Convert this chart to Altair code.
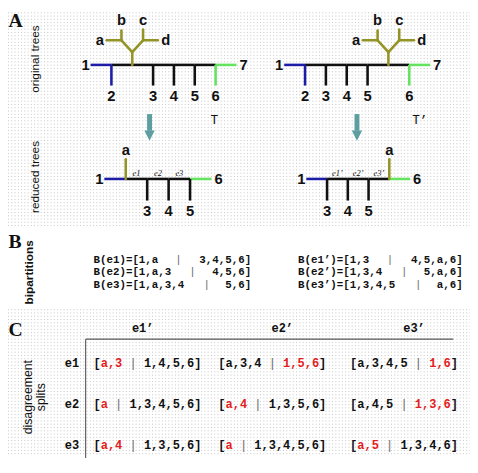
import altair as alt
import pandas as pd

# ------------------------------------------------------------------ data
# Panel A: leaves in order along each backbone ("S" = the subtree ((a,b),(c,d)))
T_order = ["1", "2", "S", "3", "4", "5", "6", "7"]
Tp_order = ["1", "2", "3", "4", "5", "S", "6", "7"]
rT_order = ["1", "a", "3", "4", "5", "6"]
rTp_order = ["1", "3", "4", "5", "a", "6"]
subtree_leaves = ["a", "b", "c", "d"]
rT_edge_names = ["e1", "e2", "e3"]
rTp_edge_names = ["e1’", "e2’", "e3’"]
tree_names = ["T", "T’"]
side_labels_A = ["original trees", "reduced trees"]
panel_letters = ["A", "B", "C"]

# Panel B: bipartitions
B_T_edges = ["e1", "e2", "e3"]
B_T_left = ["1,a", "1,a,3", "1,a,3,4"]
B_T_right = ["3,4,5,6", "4,5,6", "5,6"]
B_Tp_edges = ["e1’", "e2’", "e3’"]
B_Tp_left = ["1,3", "1,3,4", "1,3,4,5"]
B_Tp_right = ["4,5,a,6", "5,a,6", "a,6"]

# Panel C: disagreement splits
C_rows = ["e1", "e2", "e3"]
C_cols = ["e1’", "e2’", "e3’"]
C_left = [["a,3", "a,3,4", "a,3,4,5"],
          ["a", "a,4", "a,4,5"],
          ["a,4", "a", "a,5"]]
C_right = [["1,4,5,6", "1,5,6", "1,6"],
           ["1,3,4,5,6", "1,3,5,6", "1,3,6"],
           ["1,3,5,6", "1,3,4,5,6", "1,3,4,6"]]
C_red_side = [["left", "right", "right"],
              ["left", "left", "right"],
              ["left", "left", "left"]]

# ------------------------------------------------------------------ layout / style
W, H = 470, 450
X0, Y0 = 8, 8
xs = alt.Scale(domain=[X0, X0 + W], nice=False, zero=False)
ys = alt.Scale(domain=[Y0, Y0 + H], nice=False, zero=False, reverse=True)

BLUE, OLIVE, GREEN, BLACK = "#1c1ca6", "#939326", "#63e35f", "#111111"
TEAL, RED, BARC, DOTC = "#5d9ea1", "#e3211c", "#6a6a6a", "#c6c6c6"
SANS, SERIF, MONO = "Liberation Sans", "Liberation Serif", "Liberation Mono"
MSIZE = 12.2
P = MSIZE * 0.6  # monospace advance (panel C)
BSIZE = 11.0
PB = 7.2         # character pitch used for panel B layout


def leaf_colour(l):
    if l in ("1", "2"):
        return BLUE
    if l in ("6", "7"):
        return GREEN
    if l in ("S", "a"):
        return OLIVE
    return BLACK


trees = [
    dict(order=T_order, x0=92, pitch=21.2, yb=62, ydown=83, ylab=94, names=None),
    dict(order=Tp_order, x0=289, pitch=21.2, yb=62, ydown=83, ylab=94, names=None),
    dict(order=rT_order, x0=106, pitch=21.8, yb=178, ydown=200, ylab=211, names=rT_edge_names),
    dict(order=rTp_order, x0=311.5, pitch=21.1, yb=178, ydown=200, ylab=211, names=rTp_edge_names),
]

edges, olive_edges, leaf_lbl_c, leaf_lbl_l, leaf_lbl_r, edge_lbl = [], [], [], [], [], []
for tr in trees:
    order = tr["order"]
    n = len(order)
    px = [tr["x0"] + i * tr["pitch"] for i in range(n)]
    yb = tr["yb"]
    for i in range(n - 1):
        col = leaf_colour(order[0]) if i == 0 else (leaf_colour(order[-1]) if i == n - 2 else BLACK)
        edges.append(dict(x=px[i], y=yb, x2=px[i + 1], y2=yb, c=col))
    leaf_lbl_r.append(dict(x=px[0] - 1, y=yb, t=order[0], c=BLACK))
    leaf_lbl_l.append(dict(x=px[-1] + 3, y=yb, t=order[-1], c=BLACK))
    for i in range(1, n - 1):
        l, x = order[i], px[i]
        if l == "S":
            ya, yn = yb - 13, yb - 25
            olive_edges += [
                dict(x=x, y=yb, x2=x, y2=ya, c=OLIVE),
                dict(x=x, y=ya, x2=x - 11, y2=yn, c=OLIVE),
                dict(x=x, y=ya, x2=x + 11, y2=yn, c=OLIVE),
                dict(x=x - 11, y=yn, x2=x - 26, y2=yn, c=OLIVE),
                dict(x=x - 11, y=yn, x2=x - 11, y2=yn - 10, c=OLIVE),
                dict(x=x + 11, y=yn, x2=x + 26, y2=yn, c=OLIVE),
                dict(x=x + 11, y=yn, x2=x + 11, y2=yn - 11, c=OLIVE),
            ]
            for t, dx, dy in zip(subtree_leaves, [-33, -11, 11, 34], [0, -21, -21, 0]):
                leaf_lbl_c.append(dict(x=x + dx, y=yn + dy, t=t, c=BLACK))
        elif l == "a":
            olive_edges.append(dict(x=x, y=yb, x2=x, y2=yb - 20, c=OLIVE))
            leaf_lbl_c.append(dict(x=x, y=yb - 29, t=l, c=BLACK))
        else:
            edges.append(dict(x=x, y=yb, x2=x, y2=tr["ydown"], c=leaf_colour(l)))
            leaf_lbl_c.append(dict(x=x, y=tr["ylab"], t=l, c=BLACK))
    if tr["names"]:
        for k, nm in enumerate(tr["names"]):
            edge_lbl.append(dict(x=(px[k + 1] + px[k + 2]) / 2, y=yb - 6, t=nm, c=BLACK))

arrow_x = [152, 363]
arrow_shaft = pd.DataFrame([dict(x=a, y=112, x2=a, y2=129, c=TEAL) for a in arrow_x])
arrow_head = pd.DataFrame([dict(x=a, y=134, c=TEAL) for a in arrow_x])
names_df = pd.DataFrame([dict(x=x, y=118, t=t, c=BLACK) for x, t in zip([218, 427], tree_names)])

# dotted backgrounds
dots = []
y = 9.0
while y < 227:
    dots.append(dict(x=X0, y=y, x2=X0 + W, y2=y, c=DOTC))
    y += 3.33
y = 311.0
while y < Y0 + H:
    dots.append(dict(x=X0, y=y, x2=X0 + W, y2=y, c=DOTC))
    y += 3.33

# panel B text
B_left_txt, B_bars, B_right_txt = [], [], []
for x0, edg, lefts, rights in [(95, B_T_edges, B_T_left, B_T_right), (303, B_Tp_edges, B_Tp_left, B_Tp_right)]:
    pres = [f"B({e})=[{l}" for e, l in zip(edg, lefts)]
    endcol = max(len(p) + len(r) + 1 for p, r in zip(pres, rights)) + 4
    for k, (pre, r) in enumerate(zip(pres, rights)):
        yy = 260.6 + k * 12.6
        B_left_txt.append(dict(x=x0, y=yy, t=pre, c=BLACK))
        B_bars.append(dict(x=x0 + (len(pre) + 2) * PB, y=yy, t="|", c=BARC))
        B_right_txt.append(dict(x=x0 + endcol * PB + 2, y=yy, t=r + "]", c=BLACK))

# panel C text
C_col_x = [95, 222, 356]
C_row_y = [365, 406.7, 448.3]
C_head_x = [145, 287, 421]
C_txt, C_bars = [], []
for r in range(3):
    for cc in range(3):
        x0, yy = C_col_x[cc], C_row_y[r]
        lf, rt, side = C_left[r][cc], C_right[r][cc], C_red_side[r][cc]
        C_txt.append(dict(x=x0, y=yy, t="[", c=BLACK))
        C_txt.append(dict(x=x0 + P, y=yy, t=lf, c=RED if side == "left" else BLACK))
        ib = len(lf) + 2
        C_bars.append(dict(x=x0 + (ib + 0.5) * P, y=yy, t="|", c=BARC))
        C_txt.append(dict(x=x0 + (ib + 2) * P, y=yy, t=rt, c=RED if side == "right" else BLACK))
        C_txt.append(dict(x=x0 + (ib + 2 + len(rt)) * P, y=yy, t="]", c=BLACK))
C_heads = [dict(x=x, y=330, t=t, c=BLACK) for x, t in zip(C_head_x, C_cols)]
C_rowlbl = [dict(x=73, y=yy, t=t, c=BLACK) for yy, t in zip(C_row_y, C_rows)]
C_grid = pd.DataFrame([dict(x=87, y=341, x2=461, y2=341, c="#555555"),
                       dict(x=87, y=341, x2=87, y2=480, c="#555555")])

letters = [dict(x=8.5, y=yy, t=t, c=BLACK) for yy, t in zip([17, 242, 332], panel_letters)]
side_A = [dict(x=35.5, y=yy, t=t, c=BLACK) for yy, t in zip([56, 176], side_labels_A)]
side_B = [dict(x=29, y=273, t="bipartitions", c=BLACK)]
side_C = [dict(x=28, y=400, t="disagreement", c=BLACK), dict(x=42, y=400, t="splits", c=BLACK)]


# ------------------------------------------------------------------ chart
def XY():
    return dict(x=alt.X("x:Q", scale=xs, axis=None), y=alt.Y("y:Q", scale=ys, axis=None))


def rules(rows, width, cap="butt", dash=None):
    kw = dict(strokeWidth=width, strokeCap=cap)
    if dash:
        kw["strokeDash"] = dash
    df = rows if isinstance(rows, pd.DataFrame) else pd.DataFrame(rows)
    return alt.Chart(df).mark_rule(**kw).encode(
        **XY(), x2="x2:Q", y2="y2:Q", color=alt.Color("c:N", scale=None))


def texts(rows, size, font, weight="normal", align="center", angle=0, style="normal"):
    df = rows if isinstance(rows, pd.DataFrame) else pd.DataFrame(rows)
    return alt.Chart(df).mark_text(font=font, fontSize=size, fontWeight=weight, align=align,
                                   baseline="middle", angle=angle, fontStyle=style).encode(
        **XY(), text="t:N", color=alt.Color("c:N", scale=None))


layers = [
    rules(dots, 1, dash=[1, 2.33]),
    rules(edges, 2.6),
    rules(olive_edges, 2.6, cap="round"),
    rules(arrow_shaft, 5),
    alt.Chart(arrow_head).mark_point(shape="M-1,-1L1,-1L0,1Z", filled=True, size=110, opacity=1,
                                     strokeWidth=0).encode(**XY(), color=alt.Color("c:N", scale=None)),
    rules(C_grid, 1.1),
    texts(leaf_lbl_c, 15, SANS, "bold"),
    texts(leaf_lbl_l, 15, SANS, "bold", align="left"),
    texts(leaf_lbl_r, 15, SANS, "bold", align="right"),
    texts(edge_lbl, 8.5, SERIF, style="italic"),
    texts(names_df, 13, MONO),
    texts(letters, 20, SERIF, "bold", align="left"),
    texts(side_A, 12, SANS, angle=270),
    texts(side_B, 12, SANS, "bold", angle=270),
    texts(side_C, 12.5, SANS, angle=270),
    texts(B_left_txt, BSIZE, MONO, "bold", align="left"),
    texts(B_right_txt, BSIZE, MONO, "bold", align="right"),
    texts(B_bars, BSIZE, MONO),
    texts(C_bars, MSIZE, MONO),
    texts(C_txt, MSIZE, MONO, "bold", align="left"),
    texts(C_heads + C_rowlbl, MSIZE, MONO, "bold"),
]

chart = alt.layer(*layers).properties(
    width=W, height=H, padding=0,
    autosize=alt.AutoSizeParams(type="none"),
    background="white",
).configure_view(stroke=None)

chart.save("out.html", embed_options={"renderer": "svg", "actions": False})
